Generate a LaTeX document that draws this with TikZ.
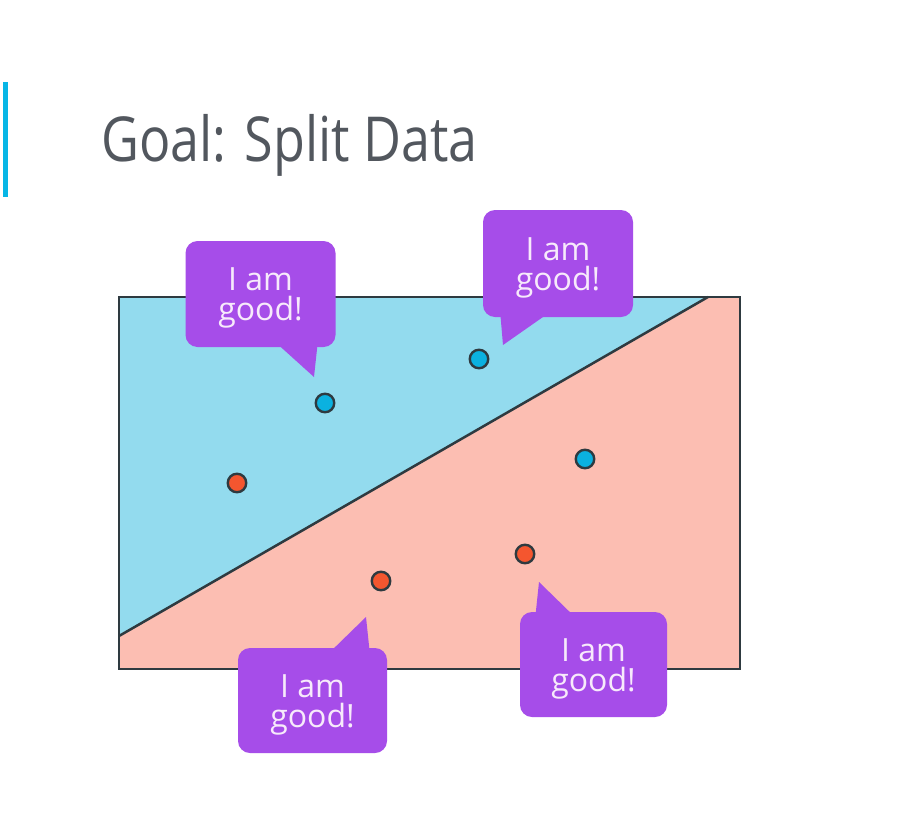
\documentclass[tikz,border=0pt]{standalone}
\usepackage{fontspec}
\setmainfont{Open Sans}
\definecolor{bar}{HTML}{07B6E6}
\definecolor{titlec}{HTML}{52575E}
\definecolor{skyfill}{HTML}{93DBEE}
\definecolor{salmonfill}{HTML}{FCBEB2}
\definecolor{edge}{HTML}{2E3A40}
\definecolor{purp}{HTML}{A64DE9}
\definecolor{bubtext}{HTML}{F7EAFB}
\definecolor{dotblue}{HTML}{0BB1E0}
\definecolor{dotred}{HTML}{F4562F}
\tikzset{
  bubble/.style={fill=purp, rounded corners=12pt, inner sep=0pt},
  bubtxt/.style={inner sep=0pt, align=center, text=bubtext, font=\fontsize{32}{30}\selectfont, yshift=-4pt},
  tail/.style={fill=purp},
  bdot/.style={circle, draw=edge, line width=2.4pt, fill=dotblue, minimum size=18.5pt, inner sep=0pt},
  rdot/.style={circle, draw=edge, line width=2.4pt, fill=dotred, minimum size=18.5pt, inner sep=0pt},
}
\begin{document}
\begin{tikzpicture}[x=1pt,y=-1pt]
\useasboundingbox (0,0) rectangle (916,822);
\fill[white] (0,0) rectangle (916,822);
% title
\fill[bar] (3,82) rectangle (8,197);
\node[anchor=base west, inner sep=0pt, text=titlec, font=\fontsize{62}{70}\selectfont] (title) at (101,161) {\scalebox{0.84}[1]{Goal: Split Data}};
% plot
\coordinate (tl) at (119,297);
\coordinate (tr) at (740,297);
\coordinate (br) at (740,669);
\coordinate (bl) at (119,669);
\coordinate (ls) at (119,636);
\coordinate (le) at (708,297);
\fill[skyfill] (tl) -- (le) -- (ls) -- cycle;
\fill[salmonfill] (le) -- (tr) -- (br) -- (bl) -- (ls) -- cycle;
\draw[edge, line width=2.5pt] (ls) -- (le);
\draw[edge, line width=2.5pt] (tl) rectangle (br);
% dots
\node[bdot] (b1) at (325,403) {};
\node[bdot] (b2) at (479,359) {};
\node[bdot] (b3) at (585,459) {};
\node[rdot] (r1) at (237,483) {};
\node[rdot] (r2) at (381,581) {};
\node[rdot] (r3) at (525,554) {};
% bubbles
\fill[tail] (273,340) -- (314,377) -- (318,340) -- cycle;
\node[bubble, minimum width=150pt, minimum height=106pt] (q1) at (260.5,294) {};
\node[bubtxt] (q1t) at (q1) {I am\\good!};
\fill[tail] (500,310) -- (503,345) -- (553,310) -- cycle;
\node[bubble, minimum width=150pt, minimum height=107pt] (q2) at (558,263.5) {};
\node[bubtxt] (q2t) at (q2) {I am\\good!};
\fill[tail] (327,655) -- (366,617) -- (370,655) -- cycle;
\node[bubble, minimum width=149pt, minimum height=105pt] (q3) at (312.5,700.5) {};
\node[bubtxt] (q3t) at (q3) {I am\\good!};
\fill[tail] (535,620) -- (539,582) -- (578,620) -- cycle;
\node[bubble, minimum width=147pt, minimum height=105pt] (q4) at (593.5,664.5) {};
\node[bubtxt] (q4t) at (q4) {I am\\good!};
\end{tikzpicture}
\end{document}
